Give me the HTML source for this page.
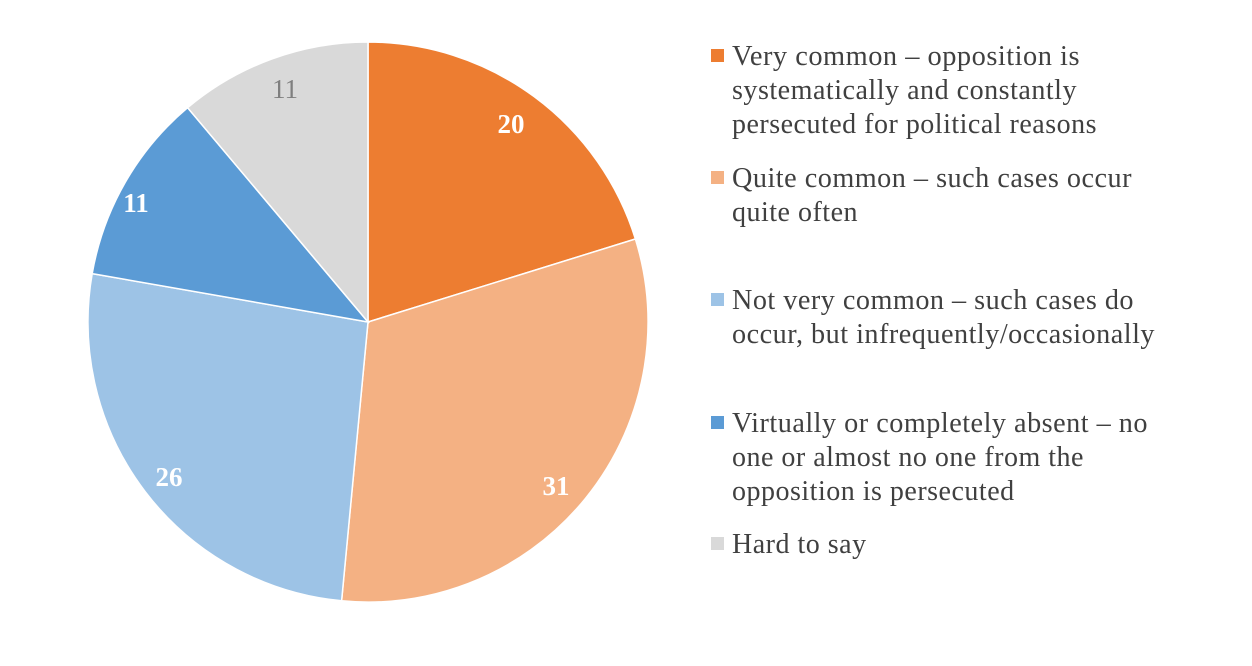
<!DOCTYPE html>
<html><head><meta charset="utf-8"><style>
body{margin:0;background:#fff;}
svg text{font-family:"Liberation Serif",serif;}
</style></head><body>
<svg width="1252" height="661" xmlns="http://www.w3.org/2000/svg">
<rect width="1252" height="661" fill="#fff"/>
<g stroke="#fff" stroke-width="1.5">
<path d="M368,322 L368,42 A280,280 0 0 1 635.4,239 Z" fill="#ED7D31"/>
<path d="M368,322 L635.4,239 A280,280 0 0 1 341.6,600.8 Z" fill="#F4B183"/>
<path d="M368,322 L341.6,600.8 A280,280 0 0 1 92.2,273.6 Z" fill="#9DC3E6"/>
<path d="M368,322 L92.2,273.6 A280,280 0 0 1 187.6,107.7 Z" fill="#5B9BD5"/>
<path d="M368,322 L187.6,107.7 A280,280 0 0 1 368,42 Z" fill="#D9D9D9"/>
</g>
<g font-size="27" font-weight="bold" fill="#fff" text-anchor="middle">
<text x="511" y="133">20</text>
<text x="556" y="495">31</text>
<text x="169" y="486">26</text>
<text x="136" y="212">11</text>
</g>
<text x="285" y="98" font-size="27" fill="#7F7F7F" text-anchor="middle">11</text>
<g font-size="28" fill="#404040" letter-spacing="0.5">
<rect x="711" y="49" width="13" height="13" fill="#ED7D31"/>
<text x="732" y="65" textLength="348" lengthAdjust="spacingAndGlyphs">Very common – opposition is</text>
<text x="732" y="99" textLength="345" lengthAdjust="spacingAndGlyphs">systematically and constantly</text>
<text x="732" y="133" textLength="365" lengthAdjust="spacingAndGlyphs">persecuted for political reasons</text>
<rect x="711" y="171" width="13" height="13" fill="#F4B183"/>
<text x="732" y="187" textLength="400" lengthAdjust="spacingAndGlyphs">Quite common – such cases occur</text>
<text x="732" y="221">quite often</text>
<rect x="711" y="293" width="13" height="13" fill="#9DC3E6"/>
<text x="732" y="309" textLength="402" lengthAdjust="spacingAndGlyphs">Not very common – such cases do</text>
<text x="732" y="343" textLength="423" lengthAdjust="spacingAndGlyphs">occur, but infrequently/occasionally</text>
<rect x="711" y="416" width="13" height="13" fill="#5B9BD5"/>
<text x="732" y="432" textLength="416" lengthAdjust="spacingAndGlyphs">Virtually or completely absent – no</text>
<text x="732" y="466">one or almost no one from the</text>
<text x="732" y="500">opposition is persecuted</text>
<rect x="711" y="537" width="13" height="13" fill="#D9D9D9"/>
<text x="732" y="553">Hard to say</text>
</g>
</svg>
</body></html>
